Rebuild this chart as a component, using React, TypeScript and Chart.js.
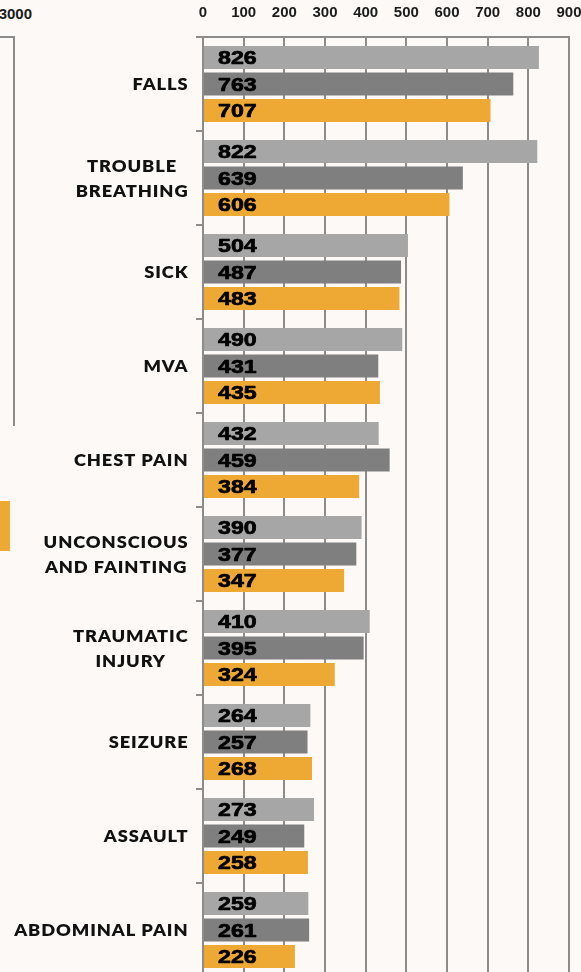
import React, { useEffect, useRef } from "react";
import { Chart, registerables } from "chart.js";

Chart.register(...registerables);

const categories: string[][] = [
  ["FALLS"],
  ["TROUBLE", "BREATHING"],
  ["SICK"],
  ["MVA"],
  ["CHEST PAIN"],
  ["UNCONSCIOUS", "AND FAINTING"],
  ["TRAUMATIC", "INJURY"],
  ["SEIZURE"],
  ["ASSAULT"],
  ["ABDOMINAL PAIN"],
];

const seriesNames = ["Period 1", "Period 2", "Period 3"];
const seriesA = [826, 822, 504, 490, 432, 390, 410, 264, 273, 259];
const seriesB = [763, 639, 487, 431, 459, 377, 395, 257, 249, 261];
const seriesC = [707, 606, 483, 435, 384, 347, 324, 268, 258, 226];
const seriesColors = ["#a6a6a6", "#7f7f7f", "#eda933"];

const xMin = 0;
const xMax = 900;
const xStep = 100;

const BG = "#fcf9f6";
const GRID = "#8c8c8c";

const valueLabelPlugin = {
  id: "valueLabels",
  afterDatasetsDraw(chart: any) {
    const ctx = chart.ctx;
    const sx = 1.22;
    ctx.save();
    ctx.font = "bold 19px 'Liberation Sans', Arial, sans-serif";
    ctx.fillStyle = "#000";
    ctx.strokeStyle = "#000";
    ctx.lineWidth = 0.7;
    ctx.lineJoin = "round";
    ctx.textAlign = "left";
    ctx.textBaseline = "middle";
    chart.data.datasets.forEach((ds: any, di: number) => {
      const meta = chart.getDatasetMeta(di);
      meta.data.forEach((bar: any, i: number) => {
        ctx.save();
        ctx.translate(bar.base + 14, bar.y + 1.5);
        ctx.scale(sx, 1);
        ctx.fillText(String(ds.data[i]), 0, 0);
        ctx.strokeText(String(ds.data[i]), 0, 0);
        ctx.restore();
      });
    });
    ctx.restore();
  },
};

const categoryLabelPlugin = {
  id: "categoryLabels",
  afterDraw(chart: any) {
    const ctx = chart.ctx;
    const yScale = chart.scales.y;
    const right = 188;
    const lh = 25;
    const sx = 1.14;
    ctx.save();
    ctx.font = "800 16px Lato, sans-serif";
    (ctx as any).letterSpacing = "0.8px";
    ctx.fillStyle = "#111";
    ctx.textAlign = "center";
    ctx.textBaseline = "middle";
    categories.forEach((lines, i) => {
      const cy = yScale.getPixelForValue(i);
      const widths = lines.map((l) => ctx.measureText(l).width * sx);
      const maxW = Math.max(...widths);
      const cx = right - maxW / 2;
      lines.forEach((l, j) => {
        const y = cy + (j - (lines.length - 1) / 2) * lh;
        ctx.save();
        ctx.translate(cx + 0.5, y + 1);
        ctx.scale(sx, 1);
        ctx.fillText(l, 0, 0);
        ctx.restore();
      });
    });
    ctx.restore();
  },
};

function BarChart() {
  const ref = useRef<HTMLCanvasElement>(null);
  useEffect(() => {
    if (!ref.current) return;
    const chart = new Chart(ref.current, {
      type: "bar",
      data: {
        labels: categories.map((c) => c.join(" ")),
        datasets: [seriesA, seriesB, seriesC].map((d, i) => ({
          label: seriesNames[i],
          data: d,
          backgroundColor: seriesColors[i],
          borderWidth: 0,
          categoryPercentage: 0.846,
          barPercentage: 0.868,
        })),
      },
      options: {
        indexAxis: "y",
        animation: false,
        responsive: false,
        maintainAspectRatio: false,
        layout: { padding: { left: 0, right: 12, top: 0, bottom: 8 } },
        plugins: {
          legend: { display: false },
          tooltip: { enabled: false },
        },
        scales: {
          x: {
            position: "top",
            min: xMin,
            max: xMax,
            ticks: {
              stepSize: xStep,
              padding: 15,
              color: "#1a1a1a",
              font: { family: "'Liberation Sans', Arial, sans-serif", size: 15, weight: "bold" },
            },
            grid: { color: GRID, lineWidth: 2, drawTicks: false },
            border: { display: true, color: GRID, width: 2 },
            afterFit: (s: any) => {
              s.height = 37;
              s.paddingLeft = 0;
              s.paddingRight = 0;
            },
          },
          y: {
            ticks: { display: false },
            grid: {
              offset: true,
              drawOnChartArea: false,
              drawTicks: true,
              tickLength: 7,
              color: GRID,
              lineWidth: 2,
            },
            border: { display: true, color: GRID, width: 2 },
            afterFit: (s: any) => {
              s.width = 203;
              s.paddingTop = 0;
              s.paddingBottom = 0;
            },
          },
        },
      } as any,
      plugins: [valueLabelPlugin, categoryLabelPlugin],
    });
    return () => chart.destroy();
  }, []);
  return <canvas ref={ref} width={581} height={985} style={{ display: "block" }} />;
}

export default function App() {
  return (
    <div
      style={{
        position: "fixed",
        left: 0,
        top: 0,
        width: 581,
        height: 972,
        overflow: "hidden",
        background: BG,
      }}
    >
      <span
        style={{
          position: "absolute",
          right: 581 - 32,
          top: 5,
          font: "bold 15px 'Liberation Sans', Arial, sans-serif",
          color: "#1a1a1a",
          whiteSpace: "nowrap",
        }}
      >
        3000
      </span>
      <div style={{ position: "absolute", left: 0, top: 36, width: 15, height: 2, background: GRID }} />
      <div style={{ position: "absolute", left: 13, top: 36, width: 2, height: 390, background: GRID }} />
      <div style={{ position: "absolute", left: 0, top: 501, width: 10, height: 50, background: "#eda933" }} />
      <div style={{ position: "absolute", left: 0, top: 0 }}>
        <BarChart />
      </div>
    </div>
  );
}
